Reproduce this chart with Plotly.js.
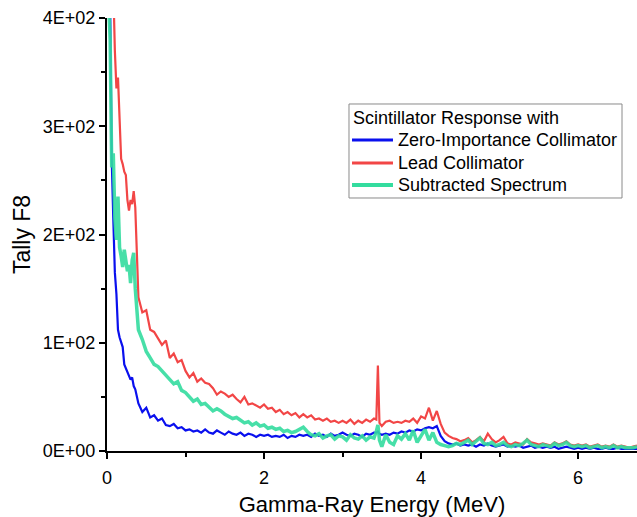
<!DOCTYPE html>
<html>
<head>
<meta charset="utf-8">
<script src="https://cdn.plot.ly/plotly-3.0.1.min.js"></script>
<style>
html,body{margin:0;padding:0;background:#fff;}
#chart{width:637px;height:517px;}
</style>
</head>
<body>
<div id="chart"></div>
<script>
// Gamma-ray energy (MeV)
const energies = [
  0,0.02,0.04,0.06,0.08,0.10,0.12,0.14,0.16,0.18,
  0.20,0.22,0.24,0.26,0.28,0.30,0.32,0.34,0.36,0.38,
  0.40,0.45,0.50,0.55,0.60,0.65,0.70,0.75,0.80,0.85,
  0.90,0.95,1.00,1.05,1.10,1.15,1.20,1.25,1.30,1.35,
  1.40,1.45,1.50,1.55,1.60,1.65,1.70,1.75,1.80,1.85,
  1.90,1.95,2.00,2.05,2.10,2.15,2.20,2.25,2.30,2.35,
  2.40,2.45,2.50,2.55,2.60,2.65,2.70,2.75,2.80,2.85,
  2.90,2.95,3.00,3.05,3.10,3.15,3.20,3.25,3.30,3.35,
  3.40,3.43,3.45,3.47,3.50,3.55,3.60,3.65,3.70,3.75,3.80,3.85,
  3.90,3.95,4.00,4.05,4.10,4.15,4.20,4.25,4.30,4.35,
  4.40,4.45,4.50,4.55,4.60,4.65,4.70,4.75,4.80,4.85,
  4.90,4.95,5.00,5.05,5.10,5.15,5.20,5.25,5.30,5.35,
  5.40,5.45,5.50,5.55,5.60,5.65,5.70,5.75,5.80,5.85,
  5.90,5.95,6.00,6.05,6.10,6.15,6.20,6.25,6.30,6.35,
  6.40,6.45,6.50,6.55,6.60,6.65,6.70,6.75
];

// Zero-Importance Collimator
const zeroImportance = [
  700,550,400,270,215,165,145,112,105,100,
  96,80,76,74,70,66,68,60,57,50,
  44,36,40,31,33,28,30,24,23,25,
  21,22,19,20,18,19,17,20,17,16,
  19,17,15,18,16,15,17,14,16,15,
  13,15,14,15,13,14,13,15,12,14,
  13,15,14,15,13,16,14,15,13,16,
  14,15,17,15,14,16,15,13,16,15,
  17,17,18,16,15,16,15,17,16,18,17,19,
  18,20,19,21,22,21,23,14,9,7,
  6,7,5,6,5,6,4,6,5,7,
  5,4,5,6,4,5,4,5,3,4,
  5,3,4,3,4,3,4,2,3,4,
  3,2,3,2,3,2,3,2,2,3,
  2,2,3,2,2,2,2,2
];

// Lead Collimator
const leadCollimator = [
  900,800,650,520,430,370,335,345,300,270,
  265,258,255,232,222,232,228,240,225,175,
  142,128,130,112,110,104,98,102,86,90,
  82,84,74,68,72,64,67,63,62,58,
  52,55,53,50,52,48,45,50,43,44,
  42,40,43,39,40,36,38,34,36,33,
  35,31,34,31,33,29,30,28,30,27,
  28,26,28,26,29,25,28,26,29,27,
  30,29,79,26,23,27,28,26,27,26,28,27,
  30,26,32,30,40,28,37,25,17,14,
  12,11,9,10,12,8,10,13,9,16,
  11,8,10,13,7,6,8,7,6,11,
  8,7,6,7,6,5,8,6,7,9,
  6,5,6,5,6,4,5,6,4,5,
  4,6,4,5,4,3,4,5
];

// Subtracted Spectrum
const subtracted = [
  450,420,380,262,275,215,195,235,188,180,
  170,186,178,166,172,155,176,183,150,128,
  112,103,92,86,80,78,74,70,66,62,
  64,56,54,50,46,48,43,44,40,37,
  39,37,34,32,30,31,28,26,27,24,
  26,23,24,21,22,20,21,18,19,17,
  18,20,22,18,15,14,16,12,14,15,
  11,14,13,10,15,12,11,14,10,13,
  12,18,24,10,4,15,8,6,14,11,16,10,
  19,8,14,20,10,17,8,6,5,4,
  5,7,6,8,10,6,9,12,7,6,
  8,5,6,8,5,4,6,5,7,10,
  6,5,4,6,5,4,7,5,6,8,
  5,4,5,4,5,3,4,5,3,4,
  3,5,3,4,3,3,3,4
];

const seriesNames = ["Zero-Importance Collimator", "Lead Collimator", "Subtracted Spectrum"];
const seriesColors = ["#0a10ee", "#f24646", "#33dc9e"];
const legendTitle = "Scintillator Response with";
const yTickVals = [0, 100, 200, 300, 400];
const yTickText = ["0E+00", "1E+02", "2E+02", "3E+02", "4E+02"];
const yMinorVals = [50, 150, 250, 350];

const FONT = "Arial, 'Liberation Sans', sans-serif";

const traces = [
  {x: energies, y: zeroImportance, name: seriesNames[0], type: "scatter", mode: "lines",
   line: {color: seriesColors[0], width: 2.2}},
  {x: energies, y: leadCollimator, name: seriesNames[1], type: "scatter", mode: "lines",
   line: {color: seriesColors[1], width: 2.2}},
  {x: energies, y: subtracted, name: seriesNames[2], type: "scatter", mode: "lines",
   opacity: 0.9, line: {color: seriesColors[2], width: 3.5}}
];

// Legend box drawn in paper coordinates (Origin-style legend with tight rows)
const legX0 = 0.4566, legX1 = 0.9717, legY0 = 0.5843, legY1 = 0.8014;
const swX0 = 0.4623, swX1 = 0.5396, txtX = 0.5472, titleX = 0.4630;
const rowY = [0.7182, 0.6651, 0.6143];
const titleY = 0.7691;
const swWidths = [3, 3, 4];

const shapes = [{
  type: "rect", xref: "paper", yref: "paper", x0: legX0, x1: legX1, y0: legY0, y1: legY1,
  line: {color: "#8a8a8a", width: 1}, fillcolor: "#fff", layer: "above"
}];
const annotations = [{
  xref: "paper", yref: "paper", x: titleX, y: titleY, xanchor: "left", yanchor: "middle",
  showarrow: false, text: legendTitle, borderpad: 0,
  font: {family: FONT, size: 18, color: "#000"}
}];
seriesNames.forEach((nm, i) => {
  shapes.push({type: "line", xref: "paper", yref: "paper", x0: swX0, x1: swX1, y0: rowY[i], y1: rowY[i],
    line: {color: seriesColors[i], width: swWidths[i]}, layer: "above"});
  annotations.push({xref: "paper", yref: "paper", x: txtX, y: rowY[i], xanchor: "left", yanchor: "middle",
    showarrow: false, text: nm, borderpad: 0, font: {family: FONT, size: 18, color: "#000"}});
});

const layout = {
  width: 637, height: 517,
  margin: {l: 107, r: 0, t: 18, b: 66},
  paper_bgcolor: "#fff", plot_bgcolor: "#fff",
  font: {family: FONT, color: "#000", size: 18},
  showlegend: false,
  shapes: shapes,
  annotations: annotations,
  xaxis: {
    range: [0, 6.75], showgrid: false, zeroline: false,
    showline: true, linecolor: "#000", linewidth: 2,
    ticks: "outside", ticklen: 6, tickwidth: 2, tickcolor: "#000",
    tickmode: "linear", tick0: 0, dtick: 2, ticklabelstandoff: 3,
    tickfont: {family: FONT, size: 18, color: "#000"},
    minor: {ticks: "outside", dtick: 1, tick0: 0, ticklen: 4, tickwidth: 2, tickcolor: "#000"},
    title: {text: "Gamma-Ray Energy (MeV)", font: {family: FONT, size: 22, color: "#000"}, standoff: 32},
    fixedrange: true
  },
  yaxis: {
    range: [0, 400], showgrid: false, zeroline: false,
    showline: true, linecolor: "#000", linewidth: 2,
    ticks: "outside", ticklen: 6, tickwidth: 2, tickcolor: "#000",
    tickmode: "array", tickvals: yTickVals, ticktext: yTickText,
    tickfont: {family: FONT, size: 18, color: "#000"},
    minor: {ticks: "outside", tickmode: "array", tickvals: yMinorVals, ticklen: 4, tickwidth: 2, tickcolor: "#000"},
    title: {text: "Tally F8", font: {family: FONT, size: 23, color: "#000"}, standoff: 6},
    fixedrange: true
  }
};

Plotly.newPlot("chart", traces, layout, {displayModeBar: false, staticPlot: true});
</script>
</body>
</html>
